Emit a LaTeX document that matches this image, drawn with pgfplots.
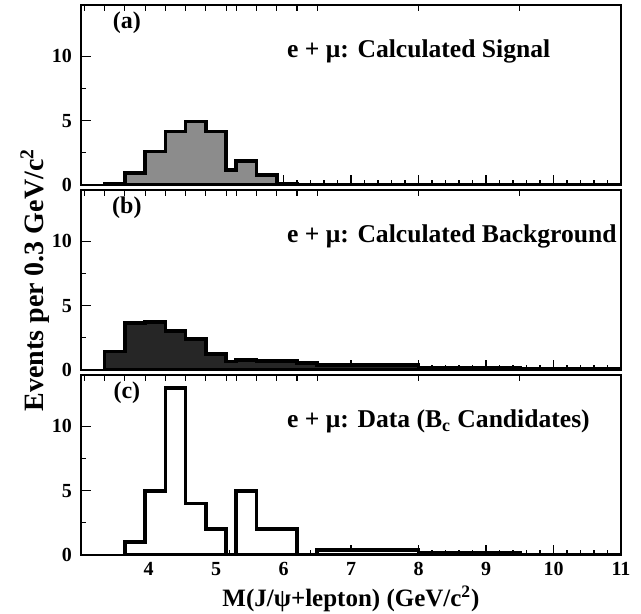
\documentclass[border=0pt]{standalone}
\usepackage{fontspec}
\setmainfont{Liberation Serif}
\usepackage{pgfplots}
\pgfplotsset{compat=1.18}

\pgfplotsset{
 panel/.style={
  scale only axis, width=270pt, height=90pt,
  xmin=3, xmax=11, ymin=0, ymax=14,
  xtick={4,...,11}, minor x tick num=4,
  ytick={0,5,10}, minor y tick num=1,
  ytick pos=left, xtick pos=bottom,
  tick align=inside,
  axis line style={line width=1pt},
  major tick length=5pt, minor tick length=2.5pt,
  every tick/.style={black, line width=0.6pt},
  ticklabel style={font=\fontsize{10}{12}\selectfont\bfseries},
  yticklabel style={xshift=-1pt},
  /pgf/number format/assume math mode=true,
  extra x ticks={3.05,3.35,3.65,3.95,4.25,4.55,4.85,5.15,5.30,5.60,5.90,6.20,6.50,8.00,9.50},
  extra x tick labels={},
  extra x tick style={xtick pos=top, major tick length=3pt},
 },
 hist/.style={const plot mark left, line width=1.8pt, draw=black, line join=miter},
}
\tikzset{
 ttl/.style={anchor=west, font=\fontsize{12.8}{14}\selectfont\bfseries},
 plab/.style={font=\fontsize{12}{14}\selectfont\bfseries},
}

\begin{document}
\begin{tikzpicture}
% (a) signal
\begin{axis}[panel, name=a, at={(0,0)}, anchor=north west, xticklabels={}]
\addplot[hist, fill=black!45] coordinates {
 (3.35,0.12) (3.65,0.95) (3.95,2.6) (4.25,4.15) (4.55,4.95) (4.85,4.15)
 (5.15,1.15) (5.30,1.85) (5.60,0.8) (5.90,0.12) (6.20,0.03) (6.50,0.02)
 (8.00,0.02) (9.50,0.02) (11,0.02)} \closedcycle;
\node[plab] at (axis cs:3.68,12.6) {(a)};
\node[ttl] at (axis cs:5.95,10.4) {e + μ: Calculated Signal};
\end{axis}
% (b) background
\begin{axis}[panel, name=b, at={(0,-92.5pt)}, anchor=north west, xticklabels={},
  ylabel={Events per 0.3 GeV/c\textsuperscript{2}},
  ylabel style={at={(axis description cs:-0.085,0.5)}, anchor=center,
    font=\fontsize{14}{16}\selectfont\bfseries}]
\addplot[hist, fill=black!85] coordinates {
 (3.35,1.43) (3.65,3.64) (3.95,3.71) (4.25,3.04) (4.55,2.42) (4.85,1.25)
 (5.15,0.65) (5.30,0.78) (5.60,0.70) (5.90,0.70) (6.20,0.55) (6.50,0.39)
 (8.00,0.18) (9.50,0.10) (11,0.10)} \closedcycle;
\node[plab] at (axis cs:3.68,12.6) {(b)};
\node[ttl] at (axis cs:5.95,10.4) {e + μ: Calculated Background};
\end{axis}
% (c) data
\begin{axis}[panel, name=c, at={(0,-185pt)}, anchor=north west,
  xlabel={M(J/ψ+lepton) (GeV/c\textsuperscript{2})},
  xlabel style={at={(axis description cs:0.5,0)}, yshift=-22pt, anchor=center,
    font=\fontsize{12.5}{14}\selectfont\bfseries}]
\addplot[hist, fill=white] coordinates {
 (3.65,1) (3.95,5) (4.25,13) (4.55,4) (4.85,2) (5.15,0) (5.30,5)
 (5.60,2) (5.90,2) (6.20,0) (6.50,0.4) (8.00,0.2) (9.50,0) (11,0)} \closedcycle;
\node[plab] at (axis cs:3.68,12.6) {(c)};
\node[ttl] at (axis cs:5.95,10.4) {e + μ: Data (B\textsubscript{c} Candidates)};
\end{axis}
\pgfresetboundingbox
\path (-40.5pt,2.5pt) rectangle (280pt,-304.5pt);
\end{tikzpicture}
\end{document}
